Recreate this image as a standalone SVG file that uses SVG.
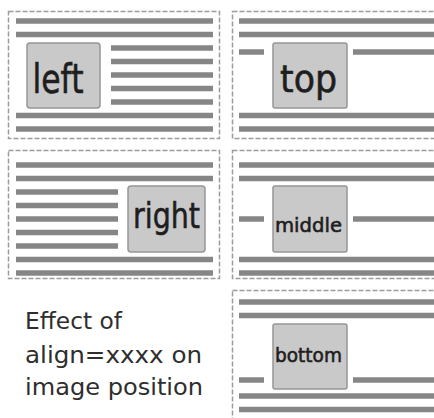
<svg xmlns="http://www.w3.org/2000/svg" width="434" height="418" viewBox="0 0 434 418">
<style>
.panel{fill:none;stroke:#9c9c9c;stroke-width:1.5;stroke-dasharray:5 2}
.ln{stroke:#868686;stroke-width:5.5}
.img{fill:#c9c9c9;stroke:#969696;stroke-width:1.5}
.lbl{font-family:"DejaVu Sans",sans-serif;fill:#1e1e1e;stroke:#1e1e1e;stroke-width:0.6}
.cap{font-family:"DejaVu Sans",sans-serif;font-size:23px;fill:#2e2e2e}
</style>
<rect width="434" height="418" fill="#fff"/>
<g id="panel-left">
<rect class="panel" x="8.5" y="11.5" width="211" height="127"/>
<g class="ln">
<line x1="16" y1="21" x2="213" y2="21"/>
<line x1="16" y1="34.5" x2="213" y2="34.5"/>
<line x1="111" y1="48" x2="213" y2="48"/>
<line x1="111" y1="61.5" x2="213" y2="61.5"/>
<line x1="111" y1="75" x2="213" y2="75"/>
<line x1="111" y1="88.5" x2="213" y2="88.5"/>
<line x1="111" y1="102" x2="213" y2="102"/>
<line x1="16" y1="115.5" x2="213" y2="115.5"/>
<line x1="16" y1="129" x2="213" y2="129"/>
</g>
<rect class="img" x="27" y="43" width="73" height="65" rx="3"/>
<text class="lbl" x="32.5" y="93" font-size="40" textLength="51" lengthAdjust="spacingAndGlyphs">left</text>
</g>
<g id="panel-top">
<rect class="panel" x="232.5" y="11.5" width="220" height="127"/>
<g class="ln">
<line x1="239" y1="21" x2="440" y2="21"/>
<line x1="239" y1="34.5" x2="440" y2="34.5"/>
<line x1="239" y1="52" x2="264" y2="52"/>
<line x1="353" y1="52" x2="440" y2="52"/>
<line x1="239" y1="115.5" x2="440" y2="115.5"/>
<line x1="239" y1="129" x2="440" y2="129"/>
</g>
<rect class="img" x="273" y="43" width="74" height="65" rx="2"/>
<text class="lbl" x="280" y="92" font-size="37" textLength="57" lengthAdjust="spacingAndGlyphs">top</text>
</g>
<g id="panel-right">
<rect class="panel" x="8.5" y="150.5" width="211" height="128"/>
<g class="ln">
<line x1="16" y1="165" x2="213" y2="165"/>
<line x1="16" y1="178.5" x2="213" y2="178.5"/>
<line x1="16" y1="192" x2="118" y2="192"/>
<line x1="16" y1="205.5" x2="118" y2="205.5"/>
<line x1="16" y1="219" x2="118" y2="219"/>
<line x1="16" y1="232.5" x2="118" y2="232.5"/>
<line x1="16" y1="246" x2="118" y2="246"/>
<line x1="16" y1="259.5" x2="213" y2="259.5"/>
<line x1="16" y1="273" x2="213" y2="273"/>
</g>
<rect class="img" x="128" y="186" width="77" height="66" rx="3"/>
<text class="lbl" x="133" y="228" font-size="36" textLength="67" lengthAdjust="spacingAndGlyphs">right</text>
</g>
<g id="panel-middle">
<rect class="panel" x="232.5" y="150.5" width="220" height="128"/>
<g class="ln">
<line x1="239" y1="165" x2="440" y2="165"/>
<line x1="239" y1="178.5" x2="440" y2="178.5"/>
<line x1="239" y1="219" x2="264" y2="219"/>
<line x1="353" y1="219" x2="440" y2="219"/>
<line x1="239" y1="259.5" x2="440" y2="259.5"/>
<line x1="239" y1="273" x2="440" y2="273"/>
</g>
<rect class="img" x="273" y="186" width="74" height="66" rx="2"/>
<text class="lbl" x="275" y="232" font-size="20" stroke-width="0.3" textLength="67" lengthAdjust="spacingAndGlyphs">middle</text>
</g>
<g id="panel-bottom">
<rect class="panel" x="232.5" y="290.5" width="220" height="140"/>
<g class="ln">
<line x1="239" y1="302" x2="440" y2="302"/>
<line x1="239" y1="315.5" x2="440" y2="315.5"/>
<line x1="239" y1="380" x2="264" y2="380"/>
<line x1="353" y1="380" x2="440" y2="380"/>
<line x1="239" y1="396" x2="440" y2="396"/>
<line x1="239" y1="409.5" x2="440" y2="409.5"/>
</g>
<rect class="img" x="273" y="324" width="74" height="65" rx="2"/>
<text class="lbl" x="275" y="362" font-size="20" stroke-width="0.3" textLength="67" lengthAdjust="spacingAndGlyphs">bottom</text>
</g>
<g id="caption">
<text class="cap" x="25" y="329" textLength="97" lengthAdjust="spacingAndGlyphs">Effect of</text>
<text class="cap" x="25" y="363" textLength="177" lengthAdjust="spacingAndGlyphs">align=xxxx on</text>
<text class="cap" x="25" y="395" textLength="178" lengthAdjust="spacingAndGlyphs">image position</text>
</g>
</svg>
